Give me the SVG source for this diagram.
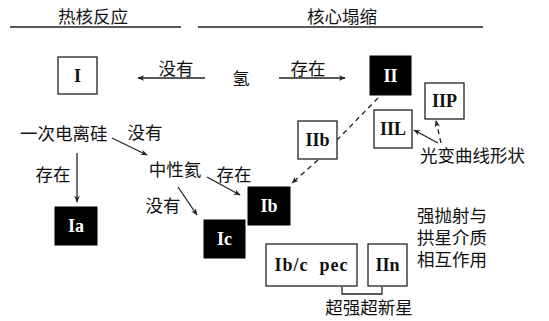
<svg xmlns="http://www.w3.org/2000/svg" width="549" height="321" viewBox="0 0 549 321">
<style>
.cjk{font-family:"Noto Sans CJK SC",sans-serif;font-size:17.5px;fill:#111;dominant-baseline:central}
.lab{font-family:"Liberation Serif",serif;font-size:18px;font-weight:bold;text-anchor:middle;dominant-baseline:central}
.wb{fill:#fff;stroke:#222;stroke-width:1.3}
.bb{fill:#000;stroke:#000}
.wt{fill:#fff}
.kt{fill:#111}
.ln{stroke:#222;stroke-width:1.3;fill:none}
.ds{stroke:#222;stroke-width:1.3;fill:none;stroke-dasharray:5,4}
</style>
<defs>
<marker id="ah" viewBox="0 0 10 10" refX="9" refY="5" markerWidth="7" markerHeight="7" markerUnits="userSpaceOnUse" orient="auto">
<path d="M0,1 L10,5 L0,9 L3,5 Z" fill="#222"/>
</marker>
</defs>
<g id="headers">
<text class="cjk" x="93" y="15" text-anchor="middle">热核反应</text>
<text class="cjk" x="342" y="15" text-anchor="middle">核心塌缩</text>
<line class="ln" x1="10" y1="27" x2="181" y2="27"/>
<line class="ln" x1="198" y1="27" x2="483" y2="27"/>
</g>
<g id="connectors">
<line class="ln" x1="205" y1="78" x2="138" y2="78" marker-end="url(#ah)"/>
<line class="ln" x1="279" y1="78" x2="345" y2="78" marker-end="url(#ah)"/>
<line class="ds" x1="378" y1="98" x2="337" y2="140"/>
<line class="ds" x1="318" y1="160" x2="292" y2="183" marker-end="url(#ah)"/>
<line class="ln" x1="438" y1="143" x2="414" y2="130" marker-end="url(#ah)"/>
<line class="ds" x1="441" y1="143" x2="436" y2="121" marker-end="url(#ah)" stroke-dasharray="4,3"/>
<line class="ln" x1="77" y1="153" x2="77" y2="202" marker-end="url(#ah)"/>
<line class="ln" x1="112" y1="138" x2="147" y2="155" marker-end="url(#ah)"/>
<line class="ln" x1="207" y1="177" x2="240" y2="195" marker-end="url(#ah)"/>
<line class="ln" x1="178" y1="187" x2="197" y2="215" marker-end="url(#ah)"/>
<polyline class="ln" points="342,287 342,294 382,294 382,287"/>
</g>
<g id="edge-labels">
<text class="cjk" x="176" y="67" text-anchor="middle">没有</text>
<text class="cjk" x="308" y="67" text-anchor="middle">存在</text>
<text class="cjk" x="53" y="173" text-anchor="middle">存在</text>
<text class="cjk" x="145" y="131" text-anchor="middle">没有</text>
<text class="cjk" x="234" y="173" text-anchor="middle">存在</text>
<text class="cjk" x="163" y="204" text-anchor="middle">没有</text>
</g>
<g id="node-I"><rect class="wb" x="58" y="57" width="39" height="37"/><text class="lab kt" x="77.5" y="76">I</text></g>
<g id="node-H"><text class="cjk" x="241" y="77" text-anchor="middle">氢</text></g>
<g id="node-II"><rect class="bb" x="370" y="56" width="41" height="39"/><text class="lab wt" x="390.5" y="76">II</text></g>
<g id="node-IIP"><rect class="wb" x="425" y="83" width="39" height="36"/><text class="lab kt" x="444.5" y="101">IIP</text></g>
<g id="node-IIL"><rect class="wb" x="374" y="110" width="38" height="38"/><text class="lab kt" x="393" y="129">IIL</text></g>
<g id="node-IIb"><rect class="wb" x="298" y="121" width="39" height="38"/><text class="lab kt" x="317.5" y="140">IIb</text></g>
<g id="node-lightcurve"><text class="cjk" x="420" y="154">光变曲线形状</text></g>
<g id="node-Si"><text class="cjk" x="20" y="132">一次电离硅</text></g>
<g id="node-He"><text class="cjk" x="175" y="168" text-anchor="middle">中性氦</text></g>
<g id="node-Ia"><rect class="bb" x="55" y="207" width="42" height="38"/><text class="lab wt" x="76" y="226">Ia</text></g>
<g id="node-Ib"><rect class="bb" x="248" y="187" width="42" height="38"/><text class="lab wt" x="269" y="206">Ib</text></g>
<g id="node-Ic"><rect class="bb" x="204" y="220" width="41" height="38"/><text class="lab wt" x="224.5" y="239">Ic</text></g>
<g id="node-Ibcpec"><rect class="wb" x="266" y="244" width="91" height="42"/><text class="lab kt" x="311.5" y="265" letter-spacing="1" xml:space="preserve">Ib/c  pec</text></g>
<g id="node-IIn"><rect class="wb" x="368" y="244" width="39" height="42"/><text class="lab kt" x="387.5" y="265">IIn</text></g>
<g id="node-csm"><text class="cjk" x="417" y="214"><tspan x="417" y="214">强抛射与</tspan><tspan x="417" y="236">拱星介质</tspan><tspan x="417" y="258">相互作用</tspan></text></g>
<g id="node-SLSN"><text class="cjk" x="369" y="306" text-anchor="middle">超强超新星</text></g>
</svg>
